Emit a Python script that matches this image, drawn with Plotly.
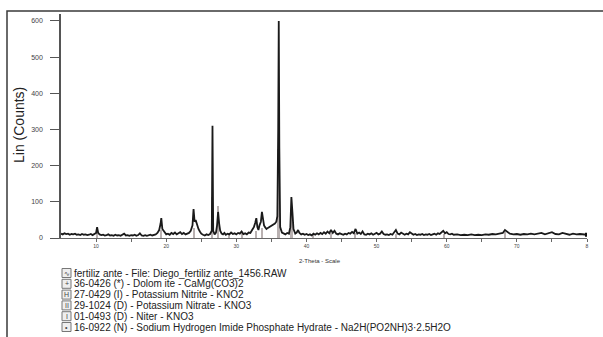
import plotly.graph_objects as go

two_theta = [
    5.0, 5.25, 5.5, 5.75, 6.0, 6.25, 6.5, 6.75, 7.0, 7.25, 7.5, 7.75, 8.0, 8.25, 8.5, 8.75,
    9.0, 9.25, 9.5, 9.75, 10.0, 10.15, 10.3, 10.5, 10.75,
    11.0, 11.25, 11.5, 11.75, 12.0, 12.25, 12.5, 12.75, 13.0, 13.25, 13.5, 13.75, 14.0, 14.25,
    14.5, 14.75, 15.0, 15.25, 15.5, 15.75, 16.0, 16.25, 16.5, 16.75, 17.0, 17.25, 17.5, 17.75,
    18.0, 18.25, 18.5, 18.75, 19.0, 19.2, 19.3, 19.45, 19.6, 19.8, 20.0, 20.25, 20.5, 20.75,
    21.0, 21.25, 21.5, 21.75, 22.0, 22.25, 22.5, 22.75, 23.0, 23.25, 23.5, 23.75, 23.9, 24.05,
    24.2, 24.4, 24.6, 24.8, 25.0, 25.25, 25.5, 25.75, 26.0, 26.25, 26.5, 26.6, 26.7, 26.9,
    27.1, 27.25, 27.4, 27.55, 27.7, 27.9, 28.1, 28.3, 28.5, 28.75, 29.0, 29.25, 29.5, 29.75,
    30.0, 30.25, 30.5, 30.75, 31.0, 31.25, 31.5, 31.75, 32.0, 32.25, 32.5, 32.7, 32.85, 33.0,
    33.15, 33.3, 33.5, 33.65, 33.8, 33.95, 34.1, 34.3, 34.5, 34.7, 34.9, 35.1, 35.3, 35.5,
    35.7, 35.85, 35.97, 36.05, 36.13, 36.25, 36.5, 36.75, 37.0, 37.25, 37.5, 37.7, 37.85, 38.0,
    38.15, 38.4, 38.6, 38.8, 39.0, 39.25, 39.5, 39.75, 40.0, 40.25, 40.5, 40.75, 41.0, 41.25,
    41.5, 41.75, 42.0, 42.25, 42.5, 42.75, 43.0, 43.25, 43.5, 43.75, 44.0, 44.25, 44.5, 44.75,
    45.0, 45.25, 45.5, 45.75, 46.0, 46.25, 46.5, 46.75, 47.0, 47.25, 47.5, 47.75, 48.0, 48.25,
    48.5, 48.75, 49.0, 49.25, 49.5, 49.75, 50.0, 50.25, 50.5, 50.75, 51.0, 51.25, 51.5, 51.75,
    52.0, 52.25, 52.5, 52.75, 53.0, 53.25, 53.5, 53.75, 54.0, 54.25, 54.5, 54.75, 55.0, 55.25,
    55.5, 55.75, 56.0, 56.25, 56.5, 56.75, 57.0, 57.25, 57.5, 57.75, 58.0, 58.25, 58.5, 58.75,
    59.0, 59.25, 59.5, 59.75, 60.0, 60.25, 60.5, 60.75, 61.0, 61.5, 62.0, 62.5, 63.0, 63.5,
    64.0, 64.5, 65.0, 65.5, 66.0, 66.5, 67.0, 67.5, 68.0, 68.3, 68.6, 69.0, 69.5, 70.0, 70.5,
    71.0, 71.5, 72.0, 72.5, 73.0, 73.5, 74.0, 74.5, 75.0, 75.5, 76.0, 76.5, 77.0, 77.5, 78.0,
    78.5, 79.0, 79.5, 80.0,
]
counts = [
    12, 10, 13, 11, 12, 9, 11, 10, 12, 9, 10, 8, 11, 9, 10, 8,
    9, 11, 8, 10, 14, 30, 14, 10, 8,
    9, 7, 8, 10, 7, 8, 6, 9, 7, 8, 6, 9, 12, 7,
    8, 6, 8, 7, 9, 6, 8, 13, 7, 6, 8, 6, 7, 9,
    7, 8, 10, 14, 22, 40, 55, 25, 20, 14, 10, 12, 9, 14,
    11, 15, 10, 13, 16, 11, 14, 10, 12, 14, 20, 35, 80, 45,
    50, 35, 25, 18, 12, 9, 7, 10, 8, 11, 20, 310, 20, 10,
    15, 35, 72, 40, 20, 12, 10, 14, 9, 12, 10, 15, 11, 13,
    10, 14, 12, 18, 11, 13, 10, 15, 14, 22, 30, 42, 55, 30,
    22, 35, 45, 72, 50, 35, 30, 25, 28, 30, 33, 35, 38, 40,
    45, 60, 300, 600, 250, 30, 15, 12, 10, 14, 12, 30, 113, 70,
    25, 12, 15, 22, 14, 10, 12, 9, 11, 8, 10, 7, 12, 9,
    13, 10, 14, 11, 16, 12, 18, 13, 22, 14, 20, 12, 10, 13,
    11, 9, 12, 10, 14, 12, 17, 13, 25, 12, 15, 11, 18, 10,
    9, 12, 10, 13, 9, 11, 14, 10, 12, 18, 11, 9, 10, 8,
    11, 9, 14, 22, 12, 10, 15, 11, 9, 12, 10, 16, 12, 9,
    11, 8, 10, 9, 11, 8, 10, 9, 11, 8, 10, 12, 9, 13,
    11, 15, 20, 13, 16, 11, 10, 12, 9, 10, 8, 9, 8, 10,
    8, 9, 8, 10, 9, 11, 10, 12, 14, 22, 17, 12, 10, 11, 9,
    11, 10, 12, 10, 11, 14, 10, 12, 16, 11, 10, 14, 11, 9, 12,
    10, 11, 9, 9,
]

# ---- reference pattern sticks (light grey) ----
stick_pos = [10.2, 19.3, 24.0, 26.6, 27.4, 29.0, 30.8, 32.9, 33.7, 36.05, 37.9, 41.0, 43.5, 47.0, 52.8, 59.6, 68.4]
stick_height = [18, 22, 28, 113, 88, 14, 15, 20, 28, 246, 72, 12, 13, 15, 12, 12, 16]

y_ticks = [0, 100, 200, 300, 400, 500, 600]
x_ticks = [10, 20, 30, 40, 50, 60, 70, 80]
x_tick_text = ["10", "20", "30", "40", "50", "60", "70", "8"]

legend_lines = [
    "fertiliz ante - File: Diego_fertiliz ante_1456.RAW",
    "36-0426 (*) - Dolom ite - CaMg(CO3)2",
    "27-0429 (I) - Potassium Nitrite - KNO2",
    "29-1024 (D) - Potassium Nitrate - KNO3",
    "01-0493 (D) - Niter - KNO3",
    "16-0922 (N) - Sodium Hydrogen Imide Phosphate Hydrate - Na2H(PO2NH)3·2.5H2O",
]
legend_icons = ["∿", "+", "H", "II", "I", "•"]

W, H = 603, 337
L, R, T, B = 61, 587, 14, 238  # plot area in pixels


def px(x):
    return (x - L) / (R - L)


def py(y):
    return (B - y) / (B - T)


fig = go.Figure()
fig.add_trace(go.Bar(x=stick_pos, y=stick_height, width=0.22,
                     marker=dict(color="#b9b1b1", line=dict(width=0)), hoverinfo="skip"))
fig.add_trace(go.Scatter(x=two_theta, y=counts, mode="lines",
                         line=dict(color="#1a1a1a", width=1.8), hoverinfo="skip"))
fig.add_trace(go.Scatter(x=[two_theta[-1]], y=[counts[-1]], mode="markers",
                         marker=dict(color="#111", size=4, symbol="square"), hoverinfo="skip"))

font = "Liberation Sans, Arial, sans-serif"
fig.update_layout(
    width=W, height=H,
    margin=dict(l=L, r=W - R, t=T, b=H - B, pad=0),
    paper_bgcolor="white", plot_bgcolor="white",
    showlegend=False,
    font=dict(family=font, color="#333"),
    xaxis=dict(range=[5, 80], tickvals=x_ticks, ticktext=x_tick_text,
               showgrid=False, zeroline=False,
               showline=True, linecolor="#666", linewidth=1,
               ticks="outside", ticklen=3, tickcolor="#666", tickwidth=1,
               tickfont=dict(size=5, color="#444"),
               minor=dict(tickvals=[15, 25, 35, 45, 55, 65, 75], ticks="outside", ticklen=3,
                          tickcolor="#666")),
    yaxis=dict(range=[0, 619], tickvals=y_ticks,
               showgrid=False, zeroline=False,
               showline=True, linecolor="#555", linewidth=1.5,
               ticks="outside", ticklen=9, tickcolor="#555", tickwidth=1,
               tickfont=dict(size=7, color="#444"), ticklabelstandoff=6),
    bargap=0,
)

shapes = []
# outer frame
shapes.append(dict(type="rect", xref="paper", yref="paper",
                   x0=px(7), x1=px(610), y0=py(345), y1=py(11),
                   line=dict(color="#3a3a3a", width=1.5), fillcolor="rgba(0,0,0,0)"))

annotations = []
annotations.append(dict(xref="paper", yref="paper", x=px(19), y=py(125), text="Lin (Counts)",
                        textangle=-90, xanchor="center", yanchor="middle", showarrow=False,
                        font=dict(size=14, color="#222", family=font)))
annotations.append(dict(xref="paper", yref="paper", x=px(320), y=py(261), text="2-Theta - Scale",
                        xanchor="center", yanchor="middle",
                        showarrow=False, font=dict(size=6, color="#333", family=font)))

y0, dy = 273, 10.8
for i, (txt, ic) in enumerate(zip(legend_lines, legend_icons)):
    yc = y0 + i * dy
    annotations.append(dict(xref="paper", yref="paper", x=px(72), y=py(yc), xanchor="left",
                            yanchor="middle", text=txt, showarrow=False,
                            font=dict(size=10, color="#222", family=font)))
    shapes.append(dict(type="rect", xref="paper", yref="paper",
                       x0=px(62), x1=px(71), y0=py(yc + 4.5), y1=py(yc - 4.5),
                       line=dict(color="#777", width=1), fillcolor="#eee"))
    annotations.append(dict(xref="paper", yref="paper", x=px(66.5), y=py(yc), xanchor="center",
                            yanchor="middle", text=ic, showarrow=False,
                            font=dict(size=7, color="#444", family=font)))

fig.update_layout(shapes=shapes, annotations=annotations)
fig.write_html("out.html")
